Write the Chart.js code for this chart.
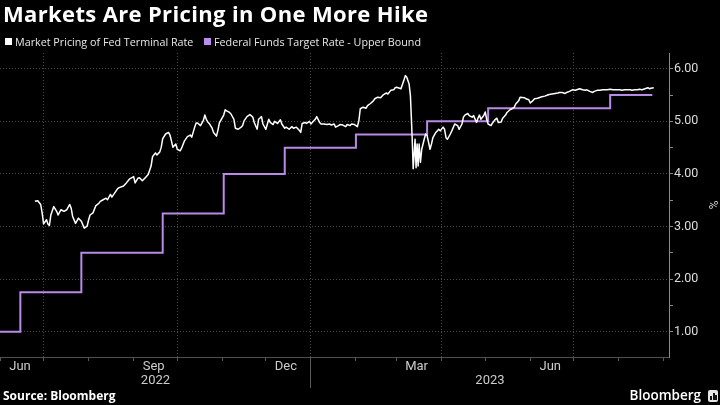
<!DOCTYPE html>
<html><head><meta charset="utf-8">
<script src="https://cdn.jsdelivr.net/npm/chart.js@4.4.0/dist/chart.umd.min.js"></script>
<style>
html,body{margin:0;padding:0;background:#000;}
#wrap{position:relative;width:720px;height:405px;overflow:hidden;background:#000;}
#c{position:absolute;left:0;top:0;}
.t{position:absolute;white-space:nowrap;}
#title{left:3px;top:-1px;font:700 22px "Open Sans";line-height:28px;letter-spacing:0.35px;color:#fff;}
.leg{position:absolute;top:35px;font:400 10.75px "Open Sans";line-height:14px;color:#e8e8e8;white-space:nowrap;}
.sw{position:absolute;top:38px;width:7px;height:7px;}
#src{left:3px;top:388px;font:700 12px "Open Sans";line-height:16px;color:#fff;}
#bb{right:19px;top:386px;font:600 13.5px "Open Sans";line-height:18px;color:#fff;}
#ic{position:absolute;left:708px;top:390px;width:10px;height:12px;background:#e6e6e6;border-radius:2px;}
#ic i{position:absolute;bottom:2px;width:2px;background:#111;}
</style></head>
<body><div id="wrap">
<canvas id="c" width="720" height="405"></canvas>
<div class="t" id="title">Markets Are Pricing in One More Hike</div>
<div class="sw" style="left:5px;background:#ffffff"></div>
<div class="leg" style="left:15px">Market Pricing of Fed Terminal Rate</div>
<div class="sw" style="left:204px;background:#bd8cf0"></div>
<div class="leg" style="left:214px">Federal Funds Target Rate - Upper Bound</div>
<div class="t" id="src">Source: Bloomberg</div>
<div class="t" id="bb">Bloomberg</div>
<div id="ic"><i style="left:2px;height:4px"></i><i style="left:4.5px;height:7px"></i><i style="left:7px;height:5px"></i></div>
</div>
<script>
// Market pricing of Fed terminal rate: x = days after 2022-06-01, y = %
const termDay = [
24,26,28,29,30,32,33,34,35,37,
39,40,42,44,46,48,49,50,52,54,
56,58,60,61,62,64,66,68,69,71,
73,74,76,77,79,81,82,85,87,89,
92,93,95,96,98,100,102,104,105,107,
108,110,111,112,114,116,117,118,119,121,
122,124,125,127,129,131,132,134,135,136,
138,140,141,142,143,144,146,147,149,150,
151,154,155,
156,158,159,161,162,164,166,167,168,170,
172,174,175,177,178,180,181,183,185,186,
188,189,191,193,194,196,197,199,201,202,
204,206,207,208,210,211,213,214,216,217,
218,220,221,223,225,227,228,230,231,233,
234,236,238,239,241,242,244,246,247,248,
250,252,253,255,257,258,260,262,264,266,
267,269,271,272,
273,275,276,278,279,280,281.6,282.5,283.2,283.9,
284.4,285.1,285.7,286.4,287.1,287.8,288.5,289.4,290.3,292,
293,294,295,296,297,298,300,302,303,305,
306,307,308,310,311,313,315,316,318,319,
320,322,323,325,326,328,329,330,331,333,
334,335,336,338,339,341,342,343,345,346,
348,349,351,353,354,355,357,358,
361,362,364,365,367,368,370,372,373,375,
377,378,380,382,384,385,387,389,390,392,
394,396,397,399,401,403,404,406,408,409,
411,413,415,416,418,420,422,423,425,427,
428,430,432,434,435,437,439,440,442,444,
446,447,448,450
];
const termVal = [
3.48,3.49,3.42,3.26,3.05,3.13,3.05,3.02,3.22,3.38,
3.29,3.22,3.32,3.29,3.32,3.42,3.35,3.19,3.06,3.16,
3.10,2.97,3.01,3.13,3.22,3.26,3.40,3.44,3.48,3.51,
3.54,3.51,3.61,3.56,3.64,3.72,3.74,3.77,3.83,3.90,
3.95,3.83,3.92,3.93,3.87,3.93,3.99,4.15,4.33,4.40,
4.36,4.42,4.51,4.67,4.76,4.79,4.74,4.63,4.51,4.57,
4.47,4.44,4.49,4.63,4.71,4.74,4.70,4.89,4.97,4.97,
4.92,5.02,5.12,5.04,4.99,4.96,4.87,4.79,4.72,4.83,
4.97,5.12,5.22,
5.20,5.17,5.14,5.04,4.87,4.85,4.89,4.92,5.01,5.09,
5.13,5.08,4.98,4.85,5.04,5.09,4.95,4.85,5.04,4.98,
4.94,5.00,4.96,5.03,4.95,4.87,4.89,4.85,4.90,4.87,
4.89,4.83,4.79,4.96,4.98,4.96,5.00,4.95,5.01,5.04,
5.09,4.98,4.95,4.95,4.94,4.95,4.93,4.95,4.89,4.92,
4.94,4.93,4.90,4.94,4.92,4.95,4.94,4.90,5.01,5.24,
5.27,5.25,5.30,5.34,5.39,5.43,5.46,5.45,5.51,5.54,
5.52,5.59,5.60,5.64,
5.65,5.63,5.62,5.78,5.87,5.84,5.71,5.49,5.04,4.54,
4.10,4.38,4.66,4.12,4.57,4.15,4.57,4.22,4.47,4.66,
4.76,4.73,4.60,4.47,4.57,4.69,4.79,4.85,4.82,4.89,
4.85,4.69,4.66,4.76,4.82,4.95,4.92,4.85,4.95,5.08,
5.12,5.15,5.11,5.08,5.11,4.98,5.06,5.12,5.04,5.11,
5.18,5.04,4.95,4.92,4.97,5.04,5.06,4.98,4.99,5.06,
5.12,5.17,5.22,5.25,5.27,5.33,5.39,5.46,
5.45,5.43,5.41,5.35,5.40,5.43,5.44,5.46,5.47,5.48,
5.50,5.51,5.52,5.53,5.54,5.55,5.55,5.53,5.55,5.57,
5.60,5.59,5.60,5.62,5.60,5.59,5.60,5.57,5.55,5.57,
5.59,5.59,5.60,5.60,5.60,5.61,5.60,5.60,5.60,5.60,
5.59,5.60,5.60,5.60,5.59,5.60,5.60,5.61,5.60,5.62,
5.64,5.62,5.63,5.64
];
// Federal funds target rate, upper bound (changes on FOMC decision dates)
const fedDates = ['2022-06-01','2022-06-15','2022-07-27','2022-09-21','2022-11-02','2022-12-14','2023-02-01','2023-03-22','2023-05-03','2023-07-26','2023-08-24'];
const fedUpper = [1.00,1.75,2.50,3.25,4.00,4.50,4.75,5.00,5.25,5.50,5.50];

// Axis structure
const monthStarts = ['2022-06-01','2022-07-01','2022-08-01','2022-09-01','2022-10-01','2022-11-01','2022-12-01',
  '2023-01-01','2023-02-01','2023-03-01','2023-04-01','2023-05-01','2023-06-01','2023-07-01','2023-08-01','2023-09-01'];
const monthLabels = ['Jun','','','Sep','','','Dec','','','Mar','','','Jun','','',''];
const yearStarts = ['2022-06-01','2023-01-01'];
const yearLabels = ['2022','2023'];
const yTicks = [1,1.5,2,2.5,3,3.5,4,4.5,5,5.5,6];
const xRange = ['2022-06-01','2023-09-04T12:00'];

const ORIGIN = Date.parse('2022-06-01');
const day = s => (Date.parse(s) - ORIGIN) / 864e5;
const isQuarter = i => { const m = monthStarts[i]; if (!m) return false; const mm = +m.slice(5,7); return mm % 3 === 1; };

const yearPlugin = {
  id: 'years',
  afterDraw(chart) {
    const s = chart.scales.x, ctx = chart.ctx;
    ctx.save();
    const edges = yearStarts.map(d => Math.max(s.min, day(d))).concat([s.max]);
    ctx.strokeStyle = '#5a5a5a'; ctx.lineWidth = 1;
    for (let i = 1; i < yearStarts.length; i++) {
      const x = Math.round(s.getPixelForValue(day(yearStarts[i]))) - 0.5;
      ctx.beginPath(); ctx.moveTo(x, s.top); ctx.lineTo(x, s.top + 31); ctx.stroke();
    }
    ctx.font = '13px Roboto'; ctx.fillStyle = '#cccccc'; ctx.textAlign = 'center'; ctx.textBaseline = 'middle';
    yearLabels.forEach((lab, i) => {
      const a = s.getPixelForValue(edges[i]), b = s.getPixelForValue(edges[i + 1]);
      ctx.fillText(lab, (a + b) / 2, s.top + 24);
    });
    ctx.restore();
  }
};

new Chart(document.getElementById('c'), {
  type: 'line',
  data: {
    datasets: [
      { label: 'Market Pricing of Fed Terminal Rate',
        data: termDay.map((d, i) => ({ x: d, y: termVal[i] })),
        borderColor: '#ffffff', borderWidth: 1.5, pointRadius: 0, tension: 0, borderJoinStyle: 'round' },
      { label: 'Federal Funds Target Rate - Upper Bound',
        data: fedDates.map((d, i) => ({ x: day(d), y: fedUpper[i] })),
        borderColor: '#b98ae6', borderWidth: 2, pointRadius: 0, stepped: true }
    ]
  },
  options: {
    responsive: false, devicePixelRatio: 1, animation: false,
    layout: { padding: { top: 53, left: 0, right: 0, bottom: 0 } },
    plugins: { legend: { display: false }, tooltip: { enabled: false }, title: { display: false } },
    scales: {
      x: {
        type: 'linear', position: 'bottom', min: day(xRange[0]), max: day(xRange[1]),
        afterBuildTicks: s => { s.ticks = monthStarts.map(m => ({ value: day(m) })); },
        afterFit: s => { s.height = 48; s.paddingLeft = 0; s.paddingRight = 0; },
        ticks: { autoSkip: false, maxRotation: 0, minRotation: 0, labelOffset: 20, padding: -2,
          color: '#cccccc', font: { family: 'Roboto', size: 13 },
          callback: (v, i) => monthLabels[i] },
        grid: { color: c => isQuarter(c.index) ? '#4a4a4a' : 'rgba(0,0,0,0)', tickColor: '#5a5a5a', tickLength: 4, lineWidth: 1 },
        border: { display: true, color: '#505050', dash: [1, 2] }
      },
      y: {
        type: 'linear', position: 'right', min: 0.52, max: 6.3,
        afterBuildTicks: s => { s.ticks = yTicks.map(v => ({ value: v })); },
        afterFit: s => { s.width = 51; },
        ticks: { autoSkip: false, padding: 1, color: '#dddddd', font: { family: 'Roboto', size: 12.5 },
          callback: v => Number.isInteger(v) ? v.toFixed(2) : '' },
        grid: { color: c => (c.tick && Number.isInteger(c.tick.value)) ? '#4a4a4a' : 'rgba(0,0,0,0)', tickColor: '#8a8a8a', tickLength: 4 },
        border: { display: true, color: '#8a8a8a', dash: [1, 2] },
        title: { display: true, text: '%', color: '#cccccc', font: { family: 'Roboto', size: 12 }, padding: { top: 1, bottom: 0 } }
      }
    }
  },
  plugins: [yearPlugin]
});
</script>
</body></html>
